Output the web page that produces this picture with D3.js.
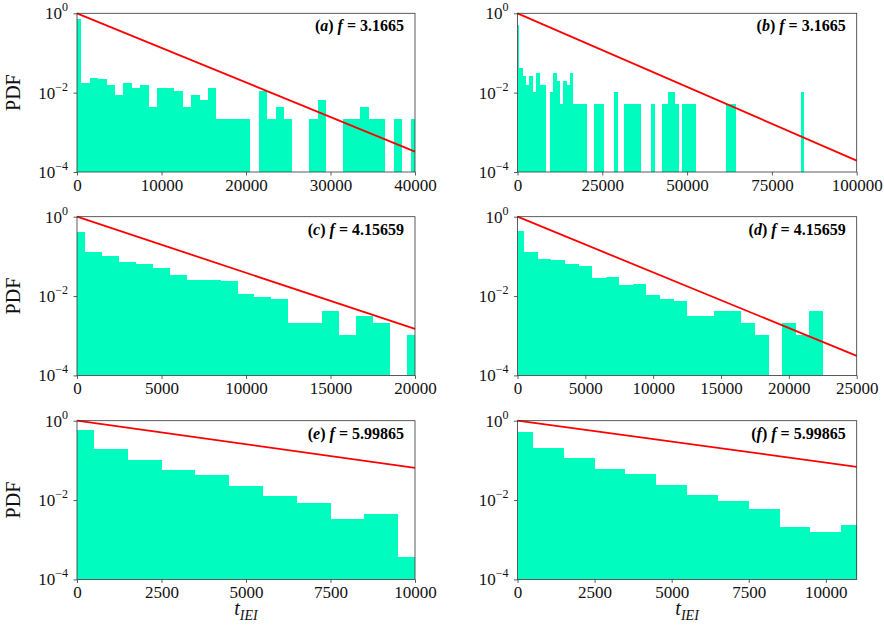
<!DOCTYPE html>
<html>
<head>
<meta charset="utf-8">
<script src="https://cdn.jsdelivr.net/npm/d3@7"></script>
<style>
body { margin: 0; background: #fff; }
</style>
</head>
<body>
<div id="chart"></div>
<script>
// histogram bins are 1000 wide, centred on k*1000 (k = 0, 1, 2, ...)
var binWidth = 1000;

var pdfA = [0.71, 0.0175, 0.024, 0.0217, 0.0156, 0.0087, 0.0175, 0.0129, 0.0153, 0.0043,
            0.0129, 0.0129, 0.0112, 0.0043, 0.0087, 0.0066, 0.0129, 0.0022, 0.0022, 0.0022,
            0.0022, 0, 0.0112, 0.0022, 0.0043, 0.0022, 0, 0, 0.0022, 0.0066,
            0, 0, 0.0022, 0.0022, 0.0043, 0.0022, 0.0022, 0, 0.0022, 0,
            0.0022];

var pdfB = [0.51, 0.041, 0.0263, 0.0156, 0.0263, 0.0102, 0.031, 0.0156, 0.0156, 0,
            0.0102, 0.031, 0.02, 0.0052, 0.02, 0.0156, 0.031, 0.0052, 0.0052, 0.0052,
            0.0052, 0, 0, 0.0052, 0.0052, 0.0052, 0, 0, 0, 0.0102,
            0, 0, 0.0052, 0.0052, 0.0052, 0.0052, 0.0052, 0, 0, 0,
            0.0052, 0, 0, 0.0052, 0.0052, 0.0102, 0.0102, 0.0052, 0, 0.0052,
            0.0052, 0.0052, 0.0052, 0, 0, 0, 0, 0, 0, 0,
            0, 0, 0.0052, 0.0052, 0.0052, 0, 0, 0, 0, 0,
            0, 0, 0, 0, 0, 0, 0, 0, 0, 0,
            0, 0, 0, 0, 0.0102];

var pdfC = [0.41, 0.127, 0.105, 0.074, 0.066, 0.052, 0.033, 0.026, 0.0247, 0.0234,
            0.0114, 0.0094, 0.0086, 0.0021, 0.0021, 0.0042, 0.00105, 0.0031, 0.0021, 0,
            0.00105];

var pdfD = [0.43, 0.127, 0.087, 0.082, 0.066, 0.058, 0.029, 0.031, 0.019, 0.0204,
            0.0106, 0.0086, 0.0075, 0.0032, 0.0032, 0.0043, 0.0043, 0.0021, 0.00105, 0,
            0.0021, 0.00105, 0.0043];

var pdfE = [0.58, 0.189, 0.1035, 0.0568, 0.0417, 0.0224, 0.013, 0.0085, 0.00334, 0.00437,
            0.000361];

var pdfF = [0.527, 0.204, 0.116, 0.0613, 0.0466, 0.0237, 0.0138, 0.0095, 0.006, 0.00204,
            0.00158, 0.0024];

// red exponential fit: value at t = 0 and at the right end of the axis
var fitStart = [1, 1, 1, 1, 1, 1];
var fitEnd = [3.26e-4, 1.94e-4, 1.49e-3, 3.1e-4, 0.065, 0.0688];

var xMax = [40000, 100000, 20000, 25000, 10000, 11000];
var xTicksA = [0, 10000, 20000, 30000, 40000];
var xTicksB = [0, 25000, 50000, 75000, 100000];
var xTicksC = [0, 5000, 10000, 15000, 20000];
var xTicksD = [0, 5000, 10000, 15000, 20000, 25000];
var xTicksE = [0, 2500, 5000, 7500, 10000];
var xTicksF = [0, 2500, 5000, 7500, 10000];

var yTicks = [1, 1e-2, 1e-4];
var yTickExp = ["0", "\u22122", "\u22124"];

var letters = ["a", "b", "c", "d", "e", "f"];
var fValues = ["3.1665", "3.1665", "4.15659", "4.15659", "5.99865", "5.99865"];

var allPdf = [pdfA, pdfB, pdfC, pdfD, pdfE, pdfF];
var allTicks = [xTicksA, xTicksB, xTicksC, xTicksD, xTicksE, xTicksF];

var w = 884;
var h = 627;
var colX = [77, 517.5];
var colW = [338, 339.2];
var rowY = [13.3, 216.7, 420.7];
var ph = 158.7;
var barColor = "#00fdc0";
var serif = "'Liberation Serif', 'DejaVu Serif', serif";

var svg = d3.select("#chart")
    .append("svg")
    .attr("width", w)
    .attr("height", h);

svg.append("rect")
    .attr("width", w)
    .attr("height", h)
    .attr("fill", "#fff");

function drawPanel(p) {
    var col = p % 2;
    var row = Math.floor(p / 2);
    var panelLeft = colX[col];
    var panelTop = rowY[row];
    var pw = colW[col];
    var xm = xMax[p];

    var xscale = d3.scaleLinear()
        .domain([0, xm])
        .range([0, pw]);

    var yscale = d3.scaleLog()
        .domain([1e-4, 1])
        .range([ph, 0]);

    var g = svg.append("g")
        .attr("transform", "translate(" + panelLeft + "," + panelTop + ")");

    var bins = allPdf[p].map(function(v, k) {
        return { k: k, v: v };
    }).filter(function(d) { return d.v > 0; });

    g.selectAll("rect.bar")
        .data(bins)
        .enter()
        .append("rect")
        .attr("class", "bar")
        .attr("x", function(d) {
            return xscale(Math.max(0, (d.k - 0.5) * binWidth));
        })
        .attr("width", function(d) {
            var x0 = Math.max(0, (d.k - 0.5) * binWidth);
            var x1 = Math.min(xm, (d.k + 0.5) * binWidth);
            return xscale(x1) - xscale(x0);
        })
        .attr("y", function(d) { return yscale(d.v); })
        .attr("height", function(d) { return ph - yscale(d.v); })
        .attr("fill", barColor)
        .attr("shape-rendering", "crispEdges");

    // fit line
    var fit = [[0, fitStart[p]], [xm, fitEnd[p]]];
    g.append("path")
        .datum(fit)
        .attr("d", d3.line()
            .x(function(d) { return xscale(d[0]); })
            .y(function(d) { return yscale(d[1]); }))
        .attr("fill", "none")
        .attr("stroke", "#ff0000")
        .attr("stroke-width", 1.8);

    // x axis
    var xaxis = d3.axisBottom(xscale)
        .tickValues(allTicks[p])
        .tickFormat(d3.format("d"))
        .tickSizeInner(3.5)
        .tickSizeOuter(0)
        .tickPadding(3);

    var gx = g.append("g")
        .attr("transform", "translate(0," + ph + ")")
        .call(xaxis);
    gx.select(".domain").remove();
    gx.selectAll("line").attr("stroke", "#333").attr("stroke-width", 0.8);
    gx.selectAll("text")
        .attr("font-family", serif)
        .attr("font-size", "17px")
        .attr("fill", "#111");

    // y axis
    var yaxis = d3.axisLeft(yscale)
        .tickValues(yTicks)
        .tickFormat("")
        .tickSizeInner(3.5)
        .tickSizeOuter(0);

    var gy = g.append("g").call(yaxis);
    gy.select(".domain").remove();
    gy.selectAll("line").attr("stroke", "#333").attr("stroke-width", 0.8);

    yTicks.forEach(function(t, i) {
        var txt = g.append("text")
            .attr("x", -9)
            .attr("y", yscale(t) + 6)
            .attr("text-anchor", "end")
            .attr("font-family", serif)
            .attr("font-size", "17px")
            .attr("fill", "#111");
        txt.append("tspan").text("10");
        txt.append("tspan")
            .attr("dy", -8)
            .attr("font-size", "12px")
            .text(yTickExp[i]);
    });

    // frame
    g.append("rect")
        .attr("width", pw)
        .attr("height", ph)
        .attr("fill", "none")
        .attr("stroke", "#333")
        .attr("stroke-width", 0.8);

    // panel label
    var lab = g.append("text")
        .attr("x", pw - 11)
        .attr("y", 18)
        .attr("text-anchor", "end")
        .attr("font-family", serif)
        .attr("font-size", "16px")
        .attr("font-weight", "bold")
        .attr("fill", "#000");
    lab.append("tspan").text("(");
    lab.append("tspan").attr("font-style", "italic").text(letters[p]);
    lab.append("tspan").text(") ");
    lab.append("tspan").attr("font-style", "italic").text("f");
    lab.append("tspan").text(" = " + fValues[p]);

    if (col == 0) {
        g.append("text")
            .attr("transform", "translate(-57," + (ph / 2) + ") rotate(-90)")
            .attr("text-anchor", "middle")
            .attr("font-family", serif)
            .attr("font-size", "20px")
            .attr("fill", "#111")
            .text("PDF");
    }

    if (row == 2) {
        var xl = g.append("text")
            .attr("x", pw / 2)
            .attr("y", ph + 36)
            .attr("text-anchor", "middle")
            .attr("font-family", serif)
            .attr("font-size", "20px")
            .attr("font-style", "italic")
            .attr("fill", "#111");
        xl.append("tspan").text("t");
        xl.append("tspan")
            .attr("dy", 5)
            .attr("font-size", "14px")
            .text("IEI");
    }
}

for (var p = 0; p < 6; p++) {
    drawPanel(p);
}
</script>
</body>
</html>
